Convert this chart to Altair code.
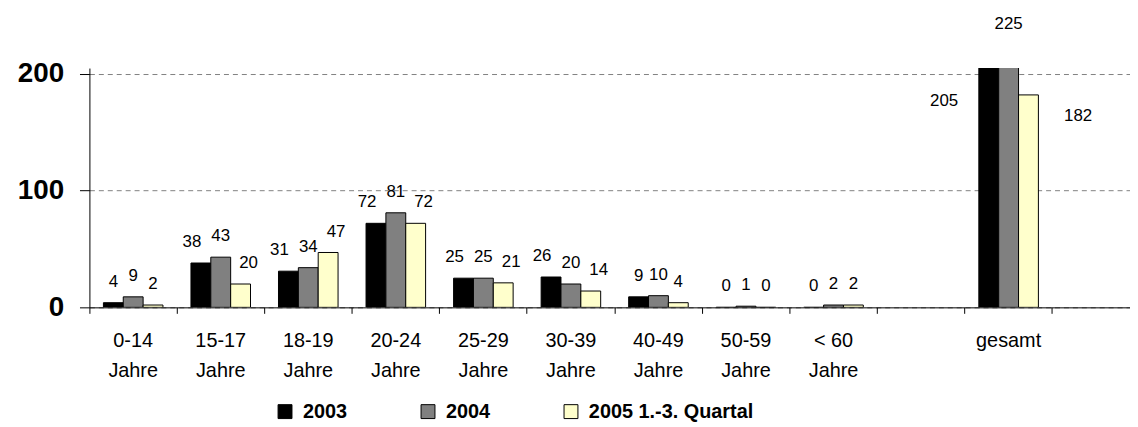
import altair as alt
import pandas as pd

FONT = "Liberation Sans"

categories = ["0-14\nJahre", "15-17\nJahre", "18-19\nJahre", "20-24\nJahre",
              "25-29\nJahre", "30-39\nJahre", "40-49\nJahre", "50-59\nJahre",
              "< 60\nJahre", " ", "gesamt", "  "]
data_categories = ["0-14\nJahre", "15-17\nJahre", "18-19\nJahre", "20-24\nJahre",
                   "25-29\nJahre", "30-39\nJahre", "40-49\nJahre", "50-59\nJahre",
                   "< 60\nJahre", "gesamt"]
series = ["2003", "2004", "2005 1.-3. Quartal"]
values_2003 = [4, 38, 31, 72, 25, 26, 9, 0, 0, 205]
values_2004 = [9, 43, 34, 81, 25, 20, 10, 1, 2, 225]
values_2005 = [2, 20, 47, 72, 21, 14, 4, 0, 2, 182]
colors = ["#000000", "#808080", "#FFFFCC"]

rows = []
for s, vals in zip(series, [values_2003, values_2004, values_2005]):
    for c, v in zip(data_categories, vals):
        rows.append({"Kategorie": c, "Serie": s, "Wert": v})
df = pd.DataFrame(rows)

X = alt.X(
    "Kategorie:N",
    sort=categories,
    scale=alt.Scale(domain=categories, range=[0, 1058], paddingInner=0, paddingOuter=0),
    axis=alt.Axis(
        title=None,
        labelAngle=0,
        labelExpr="split(datum.label, '\\n')",
        labelFont=FONT,
        labelFontSize=20,
        labelColor="black",
        labelLineHeight=31,
        labelPadding=17,
        tickSize=6,
        tickColor="black",
        domainColor="black",
        bandPosition=0,
        grid=False,
        labelOverlap=False,
    ),
)
XO = alt.XOffset(
    "Serie:N",
    sort=series,
    scale=alt.Scale(domain=series, paddingInner=0, paddingOuter=0.705),
)
Y = alt.Y(
    "Wert:Q",
    scale=alt.Scale(domain=[0, 205], nice=False),
    axis=alt.Axis(
        title=None,
        values=[0, 100, 200],
        labelFont=FONT,
        labelFontSize=28,
        labelFontWeight="bold",
        labelColor="black",
        labelPadding=16,
        tickSize=10,
        tickColor="black",
        domainColor="black",
        grid=True,
        gridColor="#808080",
        gridDash=[5, 4],
        gridWidth=1,
    ),
)

base = alt.Chart(df)

bars = base.mark_bar(stroke="black", strokeWidth=1, clip=True).encode(
    x=X,
    xOffset=XO,
    y=Y,
    color=alt.Color(
        "Serie:N",
        sort=series,
        scale=alt.Scale(domain=series, range=colors),
        legend=alt.Legend(
            title=None,
            orient="none",
            legendX=187,
            legendY=336,
            direction="horizontal",
            columns=3,
            symbolType="square",
            symbolSize=196,
            symbolStrokeColor="black",
            symbolStrokeWidth=1,
            labelFont=FONT,
            labelFontSize=20,
            labelFontWeight="bold",
            labelColor="black",
            labelOffset=8,
            labelLimit=0,
            columnPadding=71,
            padding=0,
        ),
    ),
)

layers = [bars]

# regular labels: two-digit labels of the outer series are nudged apart (as in the original)
for s, dx2 in zip(series, [-9, 0, 8]):
    for cond, dx in [("datum.Wert >= 10", dx2), ("datum.Wert < 10", 0)]:
        layers.append(
            base.transform_filter(
                f"datum.Kategorie != 'gesamt' && datum.Serie == '{s}' && {cond}"
            ).mark_text(
                dx=dx, dy=-16, baseline="alphabetic", font=FONT, fontSize=17, color="black"
            ).encode(x=X, xOffset=XO, y=Y, text="Wert:Q")
        )

# totals: labels placed freely around the clipped bars
for s, dx, dy in zip(series, [-45, 0, 50], [38, -16, 26]):
    layers.append(
        base.transform_filter(
            (alt.datum.Kategorie == "gesamt") & (alt.datum.Serie == s)
        ).mark_text(
            dx=dx, dy=dy, baseline="alphabetic", font=FONT, fontSize=17, color="black"
        ).encode(x=X, xOffset=XO, y=Y, text="Wert:Q")
    )

chart = alt.layer(*layers).properties(
    width=1048,
    height=241,
    autosize=alt.AutoSizeParams(type="none"),
    padding={"left": 82, "top": 59, "right": 0, "bottom": 119},
).configure_view(stroke="transparent")

chart.save("out.html", embed_options={"renderer": "svg", "actions": False})
